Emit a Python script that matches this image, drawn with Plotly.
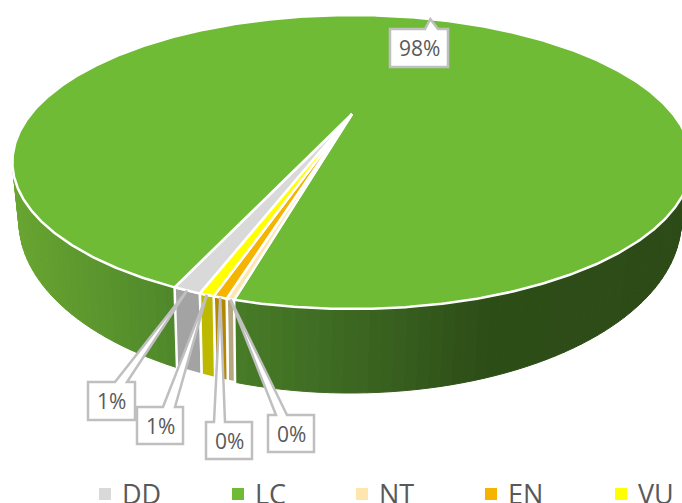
import math
import plotly.graph_objects as go

# Data (percent of total), in chart order, clockwise from the first-slice angle
categories = ["DD", "LC", "NT", "EN", "VU"]
values = [1.0, 97.73, 0.27, 0.48, 0.52]
labels = ["1%", "98%", "0%", "0%", "1%"]
top_colors = ["#D9D9D9", "#6FBB36", "#FFE6AE", "#F4B400", "#FFFF00"]
side_colors = ["#A3A3A3", None, "#B5A77F", "#B58600", "#BDB900"]
first_slice_angle = 199.12

W, H = 682, 503
K = 0.3265


def top(theta, r=1.0):
    x, y = r * math.sin(math.radians(theta)), r * math.cos(math.radians(theta))
    w = 1 + K * y
    return 352 + 321 * x / w, (114 - 94.1 * y) / w


def bottom(theta):
    x, y = math.sin(math.radians(theta)), math.cos(math.radians(theta))
    w = 1 + K * y
    return 350 + 313 * x / w, (164.85 - 99.85 * y) / w


def arc(fn, a, b, step=1.0):
    n = max(2, int(abs(b - a) / step) + 1)
    return [fn(a + (b - a) * i / (n - 1)) for i in range(n)]


def side_shade(px):
    stops = [(15, (106, 166, 50)), (180, (78, 135, 42)), (315, (64, 110, 36)),
             (480, (46, 78, 24)), (682, (45, 75, 23))]
    px = max(15, min(682, px))
    for (x0, c0), (x1, c1) in zip(stops, stops[1:]):
        if px <= x1:
            t = (px - x0) / (x1 - x0)
            return "rgb(%d,%d,%d)" % tuple(c0[i] + (c1[i] - c0[i]) * t for i in range(3))
    return "rgb(45,75,23)"


def poly(pts, fill, line="rgba(0,0,0,0)", width=0, name=""):
    xs = [p[0] for p in pts] + [pts[0][0]]
    ys = [p[1] for p in pts] + [pts[0][1]]
    return go.Scatter(x=xs, y=ys, mode="lines", fill="toself", fillcolor=fill,
                      line=dict(color=line, width=width), hoverinfo="skip",
                      showlegend=False, name=name)


# Slice boundaries
spans = {}
a = first_slice_angle
for c, v in zip(categories, values):
    spans[c] = (a, a + v * 3.6)
    a += v * 3.6

traces = []
lc0, lc1 = spans["LC"]

# Green wall: strips to the left and to the right of the small slices
for a0, a1 in [(lc0, lc0 + 130), (lc1 - 130, lc1)]:
    step = 1.5
    n = int((a1 - a0) / step)
    for i in range(n):
        s, e = a0 + (a1 - a0) * i / n, a0 + (a1 - a0) * (i + 1) / n
        t0, t1, b0, b1 = top(s), top(e), bottom(s), bottom(e)
        col = side_shade((b0[0] + b1[0]) / 2)
        traces.append(poly([t0, t1, b1, b0], col, col, 1))

# Walls of the small slices
for c, col in zip(categories, side_colors):
    if col is None:
        continue
    s, e = spans[c]
    pts = arc(top, s, e, 0.3) + arc(bottom, e, s, 0.3)
    traces.append(poly(pts, col, "white", 2.5, c))

# Top face
for c, col in zip(categories, top_colors):
    s, e = spans[c]
    pts = [top(0, 0)] + arc(top, s, e, 0.5)
    traces.append(poly(pts, col, "white", 2.5, c))

# Legend swatches
legend_x = [105, 238, 362, 491, 621]
legend_text_x = [120, 253, 377, 506, 636]
for c, col, x in zip(categories, top_colors, legend_x):
    traces.append(go.Scatter(x=[x], y=[494], mode="markers", showlegend=False, hoverinfo="skip",
                             marker=dict(symbol="square", size=12, color=col), name=c))

# Callout boxes: category -> (box x0, y0, x1, y1, leader base x0, x1)
callouts = {
    "DD": (88, 382, 135, 420, 115, 127),
    "LC": (390, 29, 448, 67, 425, 438),
    "NT": (268, 415, 314, 452, 276, 287),
    "EN": (206, 422, 252, 459, 214, 225),
    "VU": (137, 407, 183, 444, 163, 175),
}
shapes, annotations = [], []
for c, lab in zip(categories, labels):
    x0, y0, x1, y1, b0, b1 = callouts[c]
    s, e = spans[c]
    tx, ty = top((s + e) / 2)
    path = (f"M{x0},{y0} L{b0},{y0} L{tx:.1f},{ty:.1f} L{b1},{y0} L{x1},{y0} "
            f"L{x1},{y1} L{x0},{y1} Z")
    shapes.append(dict(type="path", path=path, xref="x", yref="y", fillcolor="white",
                       line=dict(color="#BFBFBF", width=2.5), layer="above"))
    annotations.append(dict(x=(x0 + x1) / 2, y=(y0 + y1) / 2, text=lab, showarrow=False,
                            xref="x", yref="y", font=dict(family="Open Sans", size=21, color="#595959")))

for c, x in zip(categories, legend_text_x):
    annotations.append(dict(x=x, y=493, text=c, showarrow=False, xref="x", yref="y", xanchor="left",
                            font=dict(family="Open Sans", size=27, color="#595959")))

fig = go.Figure(traces)
fig.update_layout(
    width=W, height=H, margin=dict(l=0, r=0, t=0, b=0),
    paper_bgcolor="white", plot_bgcolor="white", showlegend=False,
    xaxis=dict(range=[0, W], visible=False, fixedrange=True),
    yaxis=dict(range=[H, 0], visible=False, fixedrange=True),
    shapes=shapes, annotations=annotations,
)
fig.write_html("out.html", config={"displayModeBar": False},
               post_script="document.body.style.margin='0';document.body.style.overflow='hidden';")
